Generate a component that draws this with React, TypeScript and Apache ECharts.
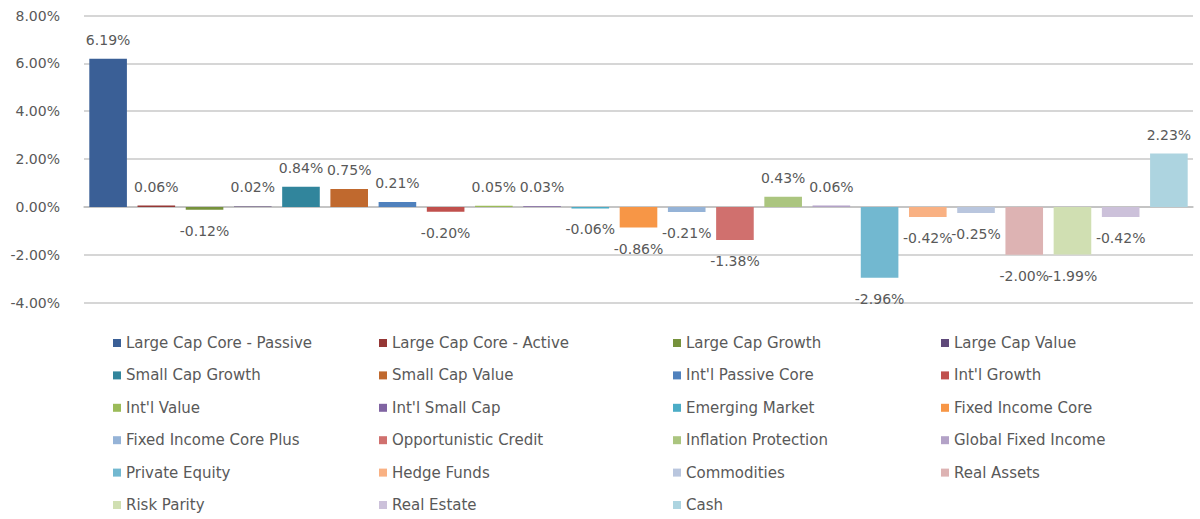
import React, { useEffect, useRef } from "react";
import * as echarts from "echarts";

const names = [
  "Large Cap Core - Passive",
  "Large Cap Core - Active",
  "Large Cap Growth",
  "Large Cap Value",
  "Small Cap Growth",
  "Small Cap Value",
  "Int'l Passive Core",
  "Int'l Growth",
  "Int'l Value",
  "Int'l Small Cap",
  "Emerging Market",
  "Fixed Income Core",
  "Fixed Income Core Plus",
  "Opportunistic Credit",
  "Inflation Protection",
  "Global Fixed Income",
  "Private Equity",
  "Hedge Funds",
  "Commodities",
  "Real Assets",
  "Risk Parity",
  "Real Estate",
  "Cash",
];

const values = [
  6.19, 0.06, -0.12, 0.02, 0.84, 0.75, 0.21, -0.2, 0.05, 0.03, -0.06, -0.86,
  -0.21, -1.38, 0.43, 0.06, -2.96, -0.42, -0.25, -2.0, -1.99, -0.42, 2.23,
];

const colors = [
  "#3A5F96",
  "#953735",
  "#76923C",
  "#5F497A",
  "#31859C",
  "#C0692E",
  "#4F81BD",
  "#C0504D",
  "#9BBB59",
  "#8064A2",
  "#4BACC6",
  "#F79646",
  "#95B3D7",
  "#D0706E",
  "#ABC57F",
  "#B3A2C7",
  "#72B8D0",
  "#F9B183",
  "#B9C6DE",
  "#DDB3B3",
  "#D0DFB2",
  "#CCC1DA",
  "#ADD4E0",
];

const yTicks = { min: -4, max: 8, interval: 2 };

const FONT = "DejaVu Sans";
const TEXT = "#595959";

export default function App() {
  const ref = useRef<HTMLDivElement>(null);

  useEffect(() => {
    if (!ref.current) return;
    const chart = echarts.init(ref.current, undefined, { renderer: "svg" });

    const series = names.map((name, i) => ({
      name,
      type: "bar",
      stack: "all",
      barWidth: "78%",
      itemStyle: { color: colors[i] },
      label: {
        show: true,
        position: values[i] >= 0 ? "top" : "bottom",
        distance: values[i] >= 0 ? 12 : 14,
        formatter: (p: any) => Number(p.value).toFixed(2) + "%",
        color: TEXT,
        fontFamily: FONT,
        fontSize: 14,
      },
      data: names.map((_, j) => (j === i ? values[i] : "-")),
    }));

    const colLefts = [113, 379, 673, 941];
    const legends = colLefts.map((left, c) => ({
      orient: "vertical",
      left,
      top: 335,
      height: 190,
      padding: 0,
      itemWidth: 8,
      itemHeight: 8,
      itemGap: 16.4,
      icon: "rect",
      selectedMode: false,
      textStyle: {
        color: TEXT,
        fontFamily: FONT,
        fontSize: 15,
        lineHeight: 16,
      },
      data: names.filter((_, i) => i % 4 === c),
    }));

    chart.setOption({
      animation: false,
      textStyle: { fontFamily: FONT },
      grid: { left: 84, right: 7, top: 15.5, bottom: 216.3, containLabel: false },
      legend: legends,
      xAxis: {
        type: "category",
        data: names,
        axisLabel: { show: false },
        axisTick: { show: false },
        axisLine: { show: true, onZero: true, lineStyle: { color: "#BFBFBF", width: 1.5 } },
      },
      yAxis: {
        type: "value",
        min: yTicks.min,
        max: yTicks.max,
        interval: yTicks.interval,
        axisLine: { show: false },
        axisTick: { show: false },
        splitLine: { lineStyle: { color: "#C8C8C8", width: 1.5 } },
        axisLabel: {
          margin: 24,
          color: TEXT,
          fontFamily: FONT,
          fontSize: 14,
          formatter: (v: number) => v.toFixed(2) + "%",
        },
      },
      series,
    });

    return () => chart.dispose();
  }, []);

  return (
    <div
      ref={ref}
      style={{ position: "fixed", left: 0, top: 0, width: 1200, height: 519, background: "#fff" }}
    />
  );
}
